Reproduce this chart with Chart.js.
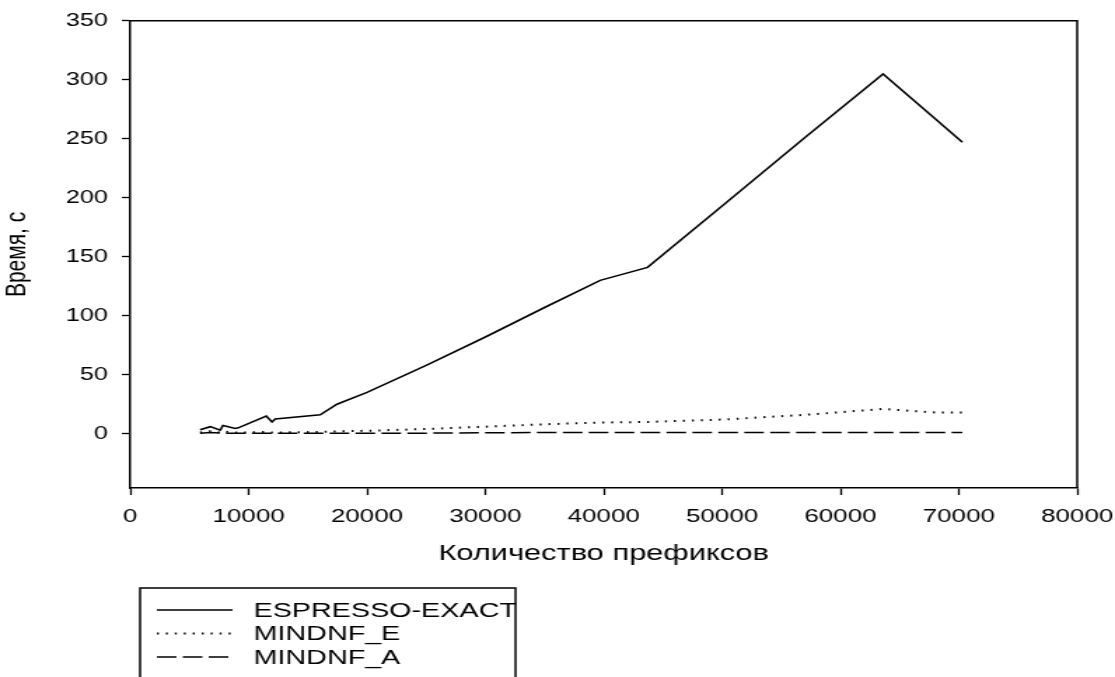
<!DOCTYPE html>
<html>
<head>
<meta charset="utf-8">
<script src="https://cdn.jsdelivr.net/npm/chart.js@4"></script>
<style>
  html, body { margin: 0; padding: 0; background: #fff; overflow: hidden; }
  #chart { display: block; }
</style>
</head>
<body>
<!-- drawn narrower and stretched by CSS: the original figure is scaled wide -->
<canvas id="chart" width="796" height="677" style="width:1115px;height:677px"></canvas>
<script>
const prefixCounts = [5900, 6760, 7600, 7830, 8870, 9120, 11490, 11970, 12250, 16050, 17460, 20000, 25000, 30000, 35000, 39700, 43700, 50000, 57000, 63600, 68000, 70300];
const espressoExact = [3.4, 6, 3, 7, 4.5, 5, 15, 10, 12.5, 16, 25, 35, 58, 82, 107, 130, 141, 193, 251, 305, 267, 247];
const mindnfE = [1, 2, 1, 2, 1, 1, 1.5, 1, 1, 1.5, 2, 2.5, 4, 6, 8, 9.5, 10, 12, 16, 21, 18, 18];
const mindnfA = [0.5, 1, 0.5, 0.5, 0.5, 0.5, 0.5, 0.5, 0.5, 0.5, 0.5, 0.5, 0.5, 0.8, 1, 1, 1, 1, 1, 1, 1, 1];
const xTicks = [0, 10000, 20000, 30000, 40000, 50000, 60000, 70000, 80000];
const yTicks = [0, 50, 100, 150, 200, 250, 300, 350];

const INK = '#000';
const FONT = 'Liberation Sans';

function pts(values) {
  return prefixCounts.map((x, i) => ({ x: x, y: values[i] }));
}

// top and right sides of the plot box
const frame = {
  id: 'frame',
  afterDraw(chart) {
    const a = chart.chartArea, ctx = chart.ctx;
    ctx.save();
    ctx.strokeStyle = INK;
    ctx.lineWidth = 1.5;
    ctx.beginPath();
    ctx.moveTo(a.left, a.top);
    ctx.lineTo(a.right, a.top);
    ctx.lineTo(a.right, a.bottom);
    ctx.stroke();
    ctx.restore();
  }
};

// boxed legend under the x axis title
const legendBox = {
  id: 'legendBox',
  afterDraw(chart) {
    const ctx = chart.ctx;
    ctx.save();
    ctx.strokeStyle = INK;
    ctx.lineWidth = 1.5;
    ctx.strokeRect(100, 588, 268, 120);
    ctx.font = '20.5px "' + FONT + '"';
    ctx.textBaseline = 'middle';
    ctx.fillStyle = INK;
    chart.data.datasets.forEach((ds, i) => {
      const y = 610 + i * 23.5;
      ctx.setLineDash(ds.borderDash || []);
      ctx.lineWidth = ds.borderWidth;
      ctx.beginPath();
      ctx.moveTo(112, y);
      ctx.lineTo(166, y);
      ctx.stroke();
      ctx.setLineDash([]);
      ctx.fillText(ds.label, 181, y + 1);
    });
    ctx.restore();
  }
};

new Chart(document.getElementById('chart'), {
  type: 'line',
  data: {
    datasets: [
      { label: 'ESPRESSO-EXACT', data: pts(espressoExact), borderColor: INK, borderWidth: 1.6, pointRadius: 0, tension: 0 },
      { label: 'MINDNF_E', data: pts(mindnfE), borderColor: INK, borderWidth: 2, borderDash: [1.4, 5], pointRadius: 0, tension: 0 },
      { label: 'MINDNF_A', data: pts(mindnfA), borderColor: INK, borderWidth: 1.5, borderDash: [14, 4.5], pointRadius: 0, tension: 0 }
    ]
  },
  options: {
    responsive: false,
    animation: false,
    layout: { padding: { left: 0, top: 18, right: 27, bottom: 108 } },
    plugins: { legend: { display: false }, tooltip: { enabled: false } },
    scales: {
      x: {
        type: 'linear',
        min: 0,
        max: 80000,
        afterBuildTicks: s => { s.ticks = xTicks.map(v => ({ value: v })); },
        afterFit: s => { s.height = 81; s.paddingLeft = 0; s.paddingRight = 0; },
        grid: { drawOnChartArea: false, tickLength: 7, tickColor: INK, tickWidth: 1.3 },
        border: { color: INK, width: 1.5 },
        ticks: { color: INK, font: { family: FONT, size: 18.5 }, padding: 11, maxRotation: 0, autoSkip: false, callback: v => String(v) },
        title: { display: true, text: 'Количество префиксов', color: INK, font: { family: FONT, size: 22 }, padding: { top: 0, bottom: 2 } }
      },
      y: {
        min: -46,
        max: 350,
        afterBuildTicks: s => { s.ticks = yTicks.map(v => ({ value: v })); },
        afterFit: s => { s.width = 93; },
        grid: { drawOnChartArea: false, tickLength: 6, tickColor: INK, tickWidth: 1.3 },
        border: { color: INK, width: 1.5 },
        ticks: { color: INK, font: { family: FONT, size: 18 }, padding: 10, autoSkip: false, callback: v => String(v) },
        title: { display: true, text: 'Время, с', color: INK, font: { family: FONT, size: 21 }, padding: { top: 0, bottom: 0 } }
      }
    }
  },
  plugins: [frame, legendBox]
});
</script>
</body>
</html>
